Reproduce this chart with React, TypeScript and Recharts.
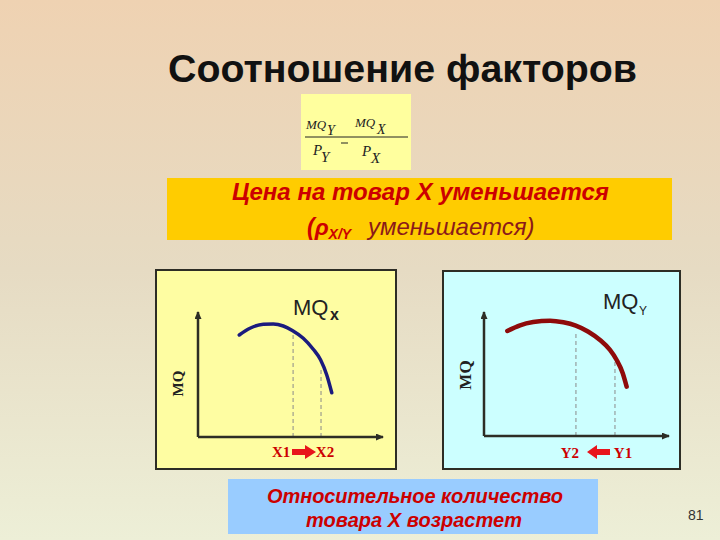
import React from 'react';
import { LineChart, Line, XAxis, YAxis, ReferenceLine } from 'recharts';

// MQx curve (left panel)
const mqxQty = [2.23, 2.81, 3.53, 4.07, 4.61, 5.12, 5.69, 6.23, 6.63, 6.96, 7.23];
const mqxVal = [8.16, 8.7, 9.02, 9.04, 8.88, 8.5, 7.9, 7.02, 6.16, 4.96, 3.54];
const xDrops = [5.14, 6.65];
const xDropTops = [8.4, 5.6];
const xTickLabels = ['X1', 'X2'];

// MQy curve (right panel)
const mqyQty = [1.26, 1.95, 2.66, 3.57, 4.29, 4.96, 5.64, 6.27, 6.81, 7.17, 7.5, 7.71];
const mqyVal = [8.47, 8.93, 9.19, 9.3, 9.17, 8.9, 8.41, 7.74, 6.94, 6.13, 5.06, 3.98];
const yDrops = [4.97, 7.08];
const yDropTops = [8.39, 6.4];
const yTickLabels = ['Y2', 'Y1'];

const SANS = "'Liberation Sans', Arial, sans-serif";
const SERIF = "'Liberation Serif', 'Times New Roman', serif";
const RED = '#CC0000';
const AXIS = '#2D2D25';

const toRows = (qty: number[], val: number[]) => qty.map((q, i) => ({ q, mq: val[i] }));

const makeTick = (ticks: number[], labels: string[], dxs: number[], dy: number) => (props: any) => {
  const { x, y, payload } = props;
  const i = props.index ?? ticks.indexOf(payload.value);
  return (
    <text x={x + dxs[i]} y={y + dy} textAnchor="middle" fontFamily={SERIF} fontWeight="bold" fontSize={15} fill={RED}>
      {labels[i]}
    </text>
  );
};

const makeAxisLabel = (dx: number, dy: number, size: number) => (props: any) => {
  const vb = props.viewBox;
  const cx = vb.x + vb.width + dx;
  const cy = vb.y + vb.height / 2 + dy;
  return (
    <text x={cx} y={cy} transform={`rotate(-90 ${cx} ${cy})`} textAnchor="middle" fontFamily={SERIF} fontWeight="bold" fontSize={size} fill="#222">
      MQ
    </text>
  );
};

type PanelProps = {
  left: number;
  top: number;
  width: number;
  height: number;
  margin: { top: number; right: number; bottom: number; left: number };
  rows: { q: number; mq: number }[];
  color: string;
  lineWidth: number;
  drops: number[];
  dropTops: number[];
  tickLabels: string[];
  tickDx: number[];
  tickDy: number;
  labelDx: number;
  labelDy: number;
  labelSize: number;
  bg: string;
};

const MQPanel = (p: PanelProps) => (
  <>
    <div
      style={{
        position: 'absolute',
        left: p.left,
        top: p.top,
        width: p.width,
        height: p.height,
        background: p.bg,
        border: `2.5px solid ${AXIS}`,
        boxSizing: 'border-box',
      }}
    />
    <div style={{ position: 'absolute', left: p.left, top: p.top }}>
      <LineChart width={p.width} height={p.height} data={p.rows} margin={p.margin}>
        <XAxis
          dataKey="q"
          type="number"
          domain={[0, 10]}
          ticks={p.drops}
          interval={0}
          height={25}
          tickLine={false}
          tick={makeTick(p.drops, p.tickLabels, p.tickDx, p.tickDy)}
          axisLine={{ stroke: AXIS, strokeWidth: 2.5, markerEnd: 'url(#axisArrow)' }}
        />
        <YAxis
          type="number"
          domain={[0, 10]}
          width={20}
          tick={false}
          tickLine={false}
          axisLine={{ stroke: AXIS, strokeWidth: 2.5, markerStart: 'url(#axisArrow)' }}
          label={makeAxisLabel(p.labelDx, p.labelDy, p.labelSize)}
        />
        {p.drops.map((x, i) => (
          <ReferenceLine
            key={`drop-${i}`}
            segment={[
              { x, y: 0 },
              { x, y: p.dropTops[i] },
            ]}
            stroke="#8A8A8A"
            strokeWidth={1}
            strokeDasharray="4 3"
          />
        ))}
        <Line
          dataKey="mq"
          type="monotone"
          stroke={p.color}
          strokeWidth={p.lineWidth}
          strokeLinecap="round"
          dot={false}
          activeDot={false}
          isAnimationActive={false}
        />
      </LineChart>
    </div>
  </>
);

const box = (left: number, top: number, width: number, height: number, bg: string) => (
  <div style={{ position: 'absolute', left, top, width, height, background: bg }} />
);

export default function App() {
  return (
    <div
      style={{
        position: 'fixed',
        left: 0,
        top: 0,
        width: 720,
        height: 540,
        overflow: 'hidden',
        background: 'linear-gradient(180deg, #EFD2B2 0%, #E6DBC3 50%, #EDEFD7 100%)',
      }}
    >
      <svg width={0} height={0} style={{ position: 'absolute' }}>
        <defs>
          <marker id="axisArrow" markerUnits="userSpaceOnUse" markerWidth={8} markerHeight={7} viewBox="0 0 8 7" refX={7} refY={3.5} orient="auto-start-reverse">
            <path d="M0,0 L8,3.5 L0,7 z" fill={AXIS} />
          </marker>
        </defs>
      </svg>

      {box(301, 94, 110, 76, '#FFFF9E')}
      {box(167, 178, 505, 62, '#FFCC00')}
      {box(228, 479, 370, 55, '#99CCFF')}

      <MQPanel
        left={155}
        top={269}
        width={242}
        height={201}
        margin={{ top: 43, right: 14, left: 23, bottom: 8 }}
        rows={toRows(mqxQty, mqxVal)}
        color="#1B1B7E"
        lineWidth={3.5}
        drops={xDrops}
        dropTops={xDropTops}
        tickLabels={xTickLabels}
        tickDx={[-12, 4]}
        tickDy={12}
        labelDx={-15}
        labelDy={9}
        labelSize={15}
        bg="#FEFDA2"
      />
      <MQPanel
        left={442}
        top={270}
        width={239}
        height={200}
        margin={{ top: 42, right: 12, left: 22, bottom: 9 }}
        rows={toRows(mqyQty, mqyVal)}
        color="#8E0B0B"
        lineWidth={4.5}
        drops={yDrops}
        dropTops={yDropTops}
        tickLabels={yTickLabels}
        tickDx={[-6, 8]}
        tickDy={14}
        labelDx={-13}
        labelDy={1}
        labelSize={17}
        bg="#CCFFFF"
      />

      <svg width={720} height={540} style={{ position: 'absolute', left: 0, top: 0, pointerEvents: 'none' }}>
        <text x={168} y={82} fontFamily={SANS} fontWeight="bold" fontSize={39} fill="#111" textLength={469} lengthAdjust="spacingAndGlyphs">
          Соотношение факторов
        </text>

        {/* formula */}
        <line x1={305} x2={408} y1={137} y2={137} stroke="#222" strokeWidth={1} />
        <line x1={341} x2={348} y1={143} y2={143} stroke="#222" strokeWidth={1} />
        <g fontFamily={SERIF} fontStyle="italic" fill="#222">
          <text x={306} y={129} fontSize={13}>MQ</text>
          <text x={327} y={135} fontSize={14}>Y</text>
          <text x={355} y={127} fontSize={13}>MQ</text>
          <text x={377} y={134} fontSize={14}>X</text>
          <text x={313} y={155} fontSize={15}>P</text>
          <text x={321} y={162} fontSize={15}>Y</text>
          <text x={362} y={156} fontSize={15}>P</text>
          <text x={371} y={163} fontSize={15}>X</text>
        </g>

        {/* orange banner */}
        <text x={232} y={200} fontFamily={SANS} fontWeight="bold" fontStyle="italic" fontSize={24} fill={RED} textLength={377} lengthAdjust="spacing">
          Цена на товар X уменьшается
        </text>
        <text x={307} y={235} fontFamily={SANS} fontStyle="italic" fontSize={23}>
          <tspan fontWeight="bold" fill={RED}>(ρ</tspan>
          <tspan fontWeight="bold" fill={RED} fontSize={14} dy={4}>X/Y</tspan>
          <tspan fill="#8B1A1A" dy={-4} x={368} fontSize={24}>уменьшается)</tspan>
        </text>

        {/* curve names */}
        <text x={293} y={315} fontFamily={SANS} fontSize={22} fill="#222">MQ</text>
        <text x={330} y={320} fontFamily={SANS} fontWeight="bold" fontSize={16} fill="#222">x</text>
        <text x={603} y={309} fontFamily={SANS} fontSize={22} fill="#222">MQ</text>
        <text x={639} y={315} fontFamily={SANS} fontSize={12} fill="#222">Y</text>

        {/* shift arrows */}
        <polygon points="292,449 305,449 305,445 316,452 305,459 305,455 292,455" fill="#E8141B" />
        <polygon points="610,449 597,449 597,445 587,452 597,459 597,455 610,455" fill="#E8141B" />

        {/* blue note */}
        <text x={267} y={503} fontFamily={SANS} fontWeight="bold" fontStyle="italic" fontSize={20} fill={RED} textLength={296} lengthAdjust="spacing">
          Относительное количество
        </text>
        <text x={306} y={527} fontFamily={SANS} fontWeight="bold" fontStyle="italic" fontSize={20} fill={RED} textLength={216} lengthAdjust="spacing">
          товара X возрастет
        </text>

        <text x={688} y={520} fontFamily={SANS} fontSize={14} fill="#333">81</text>
      </svg>
    </div>
  );
}
